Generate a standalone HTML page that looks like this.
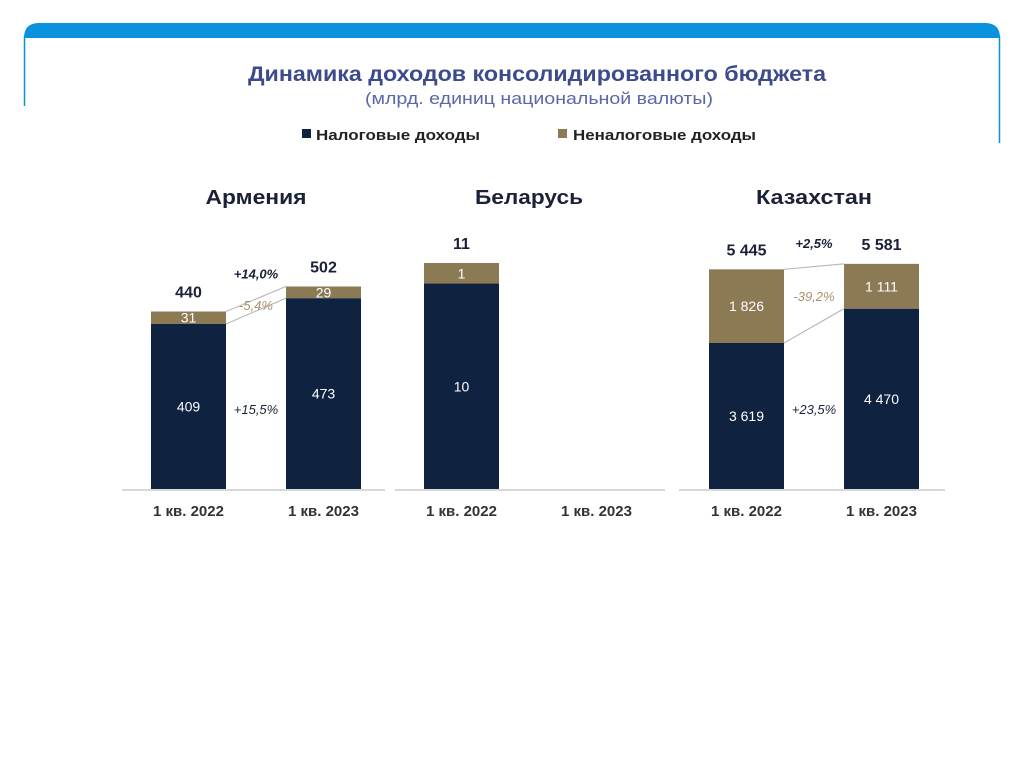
<!DOCTYPE html>
<html><head><meta charset="utf-8"><style>
body{margin:0;background:#fff;width:1024px;height:767px;overflow:hidden;font-family:"Liberation Sans",sans-serif}
svg{display:block}
</style></head><body>
<svg id="c" width="1024" height="767">
<path d="M24,38 Q24,23 39,23 L985,23 Q1000,23 1000,38 Z" fill="#0a93dc"/>
<line x1="24.5" y1="36" x2="24.5" y2="106" stroke="#0a93dc" stroke-width="1.5"/>
<line x1="999.5" y1="36" x2="999.5" y2="143" stroke="#0a93dc" stroke-width="1.5"/>
<text x="248" y="81" textLength="578" lengthAdjust="spacingAndGlyphs" font-size="21" font-weight="bold" fill="#3d4a8c">Динамика доходов консолидированного бюджета</text>
<text x="365" y="104" textLength="348" lengthAdjust="spacingAndGlyphs" font-size="17" fill="#5a67a8">(млрд. единиц национальной валюты)</text>
<g>
<rect x="302" y="129" width="9" height="9" fill="#0f2240"/>
<text x="316" y="140" textLength="164" lengthAdjust="spacingAndGlyphs" font-size="15" font-weight="bold" fill="#222">Налоговые доходы</text>
<rect x="558" y="129" width="9" height="9" fill="#8c7a55"/>
<text x="573" y="140" textLength="183" lengthAdjust="spacingAndGlyphs" font-size="15" font-weight="bold" fill="#222">Неналоговые доходы</text>
</g>
</svg>
<script>
const countries=["Армения","Беларусь","Казахстан"];
const periods=["1 кв. 2022","1 кв. 2023"];
const taxValues=[[409,473],[10,null],[3619,4470]];
const nonTaxValues=[[31,29],[1,null],[1826,1111]];
const totalLabels=[["440","502"],["11",""],["5 445","5 581"]];
const taxLabels=[["409","473"],["10",""],["3 619","4 470"]];
const nonTaxLabels=[["31","29"],["1",""],["1 826","1 111"]];
const totalGrowth=["+14,0%","","+2,5%"];
const taxGrowth=["+15,5%","","+23,5%"];
const nonTaxGrowth=["-5,4%","","-39,2%"];
const svg=document.getElementById('c');
const NS="http://www.w3.org/2000/svg";
function el(t,a,txt){const e=document.createElementNS(NS,t);for(const k in a)e.setAttribute(k,a[k]);if(txt!=null)e.textContent=txt;svg.appendChild(e);return e;}
const panels=[{x0:122,x1:385,bx:[151,286],scale:165/409,gOff:8,tw:101},{x0:395,x1:665,bx:[424,559],scale:226/11,gOff:8,tw:108},{x0:679,x1:945,bx:[709,844],scale:146/3619,gOff:16,tw:116}];
const base=489,bw=75;
panels.forEach((p,i)=>{
  const cx=(p.bx[0]+p.bx[1]+bw)/2;
  let t=el('text',{x:cx-p.tw/2,y:204,textLength:p.tw,lengthAdjust:'spacingAndGlyphs','font-size':20,'font-weight':'bold',fill:'#1b2238'},countries[i]);
  
  
  let l=el('line',{x1:p.x0,x2:p.x1,y1:base+1,y2:base+1,stroke:'#ccc','stroke-width':1.5});
  
  
  const tops=[],mids=[];
  periods.forEach((per,j)=>{
    const x=p.bx[j];
    let lb=el('text',{x:x+bw/2,y:516,'text-anchor':'middle','font-size':15,'font-weight':'bold',fill:'#333'},per);
    
    
    const tv=taxValues[i][j];if(tv==null)return;
    const nv=nonTaxValues[i][j];
    const yt=base-tv*p.scale, yn=yt-nv*p.scale;
    tops[j]=yn;mids[j]=yt;
    let r=el('rect',{x:x,y:yt,width:bw,height:base-yt,fill:'#0f2240'});
    
    
    let r2=el('rect',{x:x,y:yn,width:bw,height:yt-yn,fill:'#8c7a55'});
    
    
    let a=el('text',{x:x+bw/2,y:(yt+base)/2+5,'text-anchor':'middle','font-size':14,fill:'#fff'},taxLabels[i][j]);
    
    
    let b=el('text',{x:x+bw/2,y:(yn+yt)/2+5,'text-anchor':'middle','font-size':14,fill:'#fff'},nonTaxLabels[i][j]);
    
    
    let c=el('text',{x:x+bw/2,y:yn-14,'text-anchor':'middle','font-size':16,'font-weight':'bold',fill:'#1b2238'},totalLabels[i][j]);
    
    
  });
  if(tops[1]!=null){
    const xa=p.bx[0]+bw,xb=p.bx[1];
    [[tops[0],tops[1]],[mids[0],mids[1]]].forEach(q=>{
      let ln=el('line',{x1:xa,y1:q[0],x2:xb,y2:q[1],stroke:'#bbb','stroke-width':1.2});
      
      
    });
    const gx=(xa+xb)/2;
    let g1=el('text',{x:gx,y:Math.min(tops[0],tops[1])-p.gOff,'text-anchor':'middle','font-size':13,'font-weight':'bold','font-style':'italic',fill:'#1b2238'},totalGrowth[i]);
    
    
    let g2=el('text',{x:gx,y:(tops[0]+tops[1]+mids[0]+mids[1])/4+5,'text-anchor':'middle','font-size':13,'font-style':'italic',fill:'#a8916a'},nonTaxGrowth[i]);
    
    
    let g3=el('text',{x:gx,y:414,'text-anchor':'middle','font-size':13,'font-style':'italic',fill:'#1b2238'},taxGrowth[i]);
    
    
  }
});
</script>
</body></html>
